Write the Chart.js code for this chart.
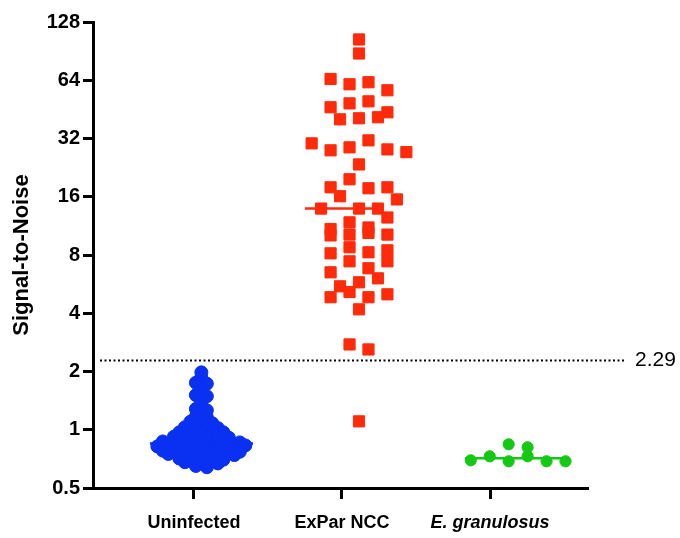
<!DOCTYPE html>
<html>
<head>
<meta charset="utf-8">
<script src="https://cdn.jsdelivr.net/npm/chart.js@4.4.1/dist/chart.umd.min.js"></script>
<style>
  html, body { margin: 0; padding: 0; background: #fff; }
  #wrap { width: 680px; height: 538px; }
</style>
</head>
<body>
<div id="wrap"><canvas id="c" width="680" height="538"></canvas></div>
<script>
// categories on the x axis
const categories = ['Uninfected', 'ExPar NCC', 'E. granulosus'];

// signal-to-noise values (order within a row = left to right)
const uninfected = [
  1.98, 1.86, 1.75, 1.73, 1.60, 1.51, 1.49, 1.38, 1.28, 1.26, 1.17, 1.16,
  1.10, 1.09, 1.08, 1.03, 1.02, 1.01, 1.02,
  0.97, 0.96, 0.95, 0.96, 0.97,
  0.92, 0.91, 0.90, 0.91, 0.92, 0.91,
  0.87, 0.86, 0.85, 0.86, 0.87, 0.86, 0.85, 0.86,
  0.82, 0.81, 0.82, 0.83, 0.81, 0.82, 0.81, 0.82, 0.83,
  0.78, 0.77, 0.78, 0.79, 0.77, 0.78, 0.78, 0.77,
  0.75, 0.74, 0.745, 0.74, 0.75, 0.745, 0.74,
  0.71, 0.70, 0.71, 0.715, 0.70,
  0.68, 0.67, 0.68, 0.67,
  0.65, 0.64
];
const exparNcc = [
  104, 88,
  65, 61, 62.5, 56.8,
  46.4, 48.6, 49.8, 43.7,
  40.2, 40.7, 41.2,
  30.2, 27.8, 28.8, 31.3, 28.1, 27.2,
  23.5,
  17.9, 19.7, 17.7, 17.9,
  13.9, 16.1, 13.9, 13.9, 15.5,
  10.9, 11.8, 11.1, 12.5,
  10.1, 10.2, 10.4, 10.2,
  8.16, 8.77, 8.26, 8.46,
  6.51, 7.42, 6.83, 7.42,
  5.51, 5.78, 6.06,
  4.84, 5.15, 4.84, 5.01,
  4.19,
  2.76, 2.60,
  1.105
];
const granulosus = [0.841, 0.812, 0.695, 0.729, 0.687, 0.729, 0.687, 0.687];

// y axis ticks (log2 spacing) and detection threshold
const yTicks = [0.5, 1, 2, 4, 8, 16, 32, 64, 128];
const threshold = 2.29;

const FONT = "'Liberation Sans', Arial, Helvetica, sans-serif";

// GraphPad-like scatter: rows of close values spread sideways
function swarm(values, center, step, rowLog) {
  const order = values.map((v, i) => i).sort((a, b) => values[b] - values[a]);
  const rows = [];
  let row = null;
  order.forEach(i => {
    const l = Math.log2(values[i]);
    if (!row || row.top - l > rowLog) { row = { top: l, items: [] }; rows.push(row); }
    row.items.push(i);
  });
  const pts = [];
  rows.forEach(r => {
    r.items.sort((a, b) => a - b);
    const n = r.items.length;
    r.items.forEach((i, k) => pts.push({ x: center + (k - (n - 1) / 2) * step, y: values[i] }));
  });
  return pts;
}

function median(arr) {
  const s = arr.slice().sort((a, b) => a - b);
  const m = Math.floor(s.length / 2);
  return s.length % 2 ? s[m] : (s[m - 1] + s[m]) / 2;
}

function medianLine(values, center, half, color) {
  const m = median(values);
  return {
    type: 'line', data: [{ x: center - half, y: m }, { x: center + half, y: m }],
    borderColor: color, borderWidth: 2.5, pointRadius: 0, showLine: true, order: 0
  };
}

const BLUE = '#0a30f2', RED = '#ff2a0a', GREEN = '#14c814';

const datasets = [
  { data: swarm(uninfected, 1.05, 0.0743, 0.06), pointStyle: 'circle', pointRadius: 6.5,
    backgroundColor: BLUE, borderColor: BLUE, borderWidth: 1, order: 1 },
  { data: swarm(exparNcc, 2.115, 0.128, 0.22), pointStyle: 'rect', pointRadius: 7.9,
    backgroundColor: RED, borderColor: RED, borderWidth: 1, order: 1 },
  { data: swarm(granulosus, 3.19, 0.128, 0.12), pointStyle: 'circle', pointRadius: 5.6,
    backgroundColor: GREEN, borderColor: GREEN, borderWidth: 1, order: 1 },
  medianLine(uninfected, 1.051, 0.348, BLUE),
  medianLine(exparNcc, 2.0135, 0.264, RED),
  medianLine(granulosus, 3.176, 0.345, GREEN)
];

const thresholdLine = {
  id: 'thresholdLine',
  afterDatasetsDraw(chart) {
    const { ctx, chartArea } = chart;
    const y = Math.round(chart.scales.y.getPixelForValue(threshold)) + 0.5;
    ctx.save();
    ctx.strokeStyle = '#000';
    ctx.lineWidth = 2;
    ctx.setLineDash([2, 2.5]);
    ctx.beginPath();
    ctx.moveTo(chartArea.left + 7, y);
    ctx.lineTo(chartArea.right + 36, y);
    ctx.stroke();
    ctx.setLineDash([]);
    ctx.fillStyle = '#000';
    ctx.font = '21px ' + FONT;
    ctx.textBaseline = 'middle';
    ctx.fillText(String(threshold), chartArea.right + 47, y);
    ctx.restore();
  }
};

new Chart(document.getElementById('c'), {
  type: 'scatter',
  data: { datasets },
  options: {
    responsive: false,
    animation: false,
    layout: { padding: { top: 22, right: 92, bottom: 0, left: 0 } },
    plugins: { legend: { display: false }, tooltip: { enabled: false } },
    scales: {
      x: {
        type: 'linear', min: 0.318, max: 3.662,
        afterBuildTicks: s => { s.ticks = [1, 2, 3].map(v => ({ value: v })); },
        afterFit: s => { s.height = 50; },
        border: { display: true, color: '#000', width: 3 },
        grid: { drawOnChartArea: false, drawTicks: true, tickLength: 11, tickWidth: 3, tickColor: '#000' },
        ticks: {
          padding: 13, color: '#000',
          callback: v => categories[v - 1],
          font: c => ({ family: FONT, size: 18, weight: 'bold', style: c.index === 2 ? 'italic' : 'normal' })
        }
      },
      y: {
        type: 'logarithmic', min: 0.5, max: 128,
        afterBuildTicks: s => { s.ticks = yTicks.map(v => ({ value: v })); },
        afterFit: s => { s.width = 93; },
        border: { display: true, color: '#000', width: 3 },
        grid: { drawOnChartArea: false, drawTicks: true, tickLength: 10, tickWidth: 3, tickColor: '#000' },
        ticks: {
          padding: 3, color: '#000',
          callback: v => String(v),
          font: { family: FONT, size: 20, weight: 'bold' }
        },
        title: {
          display: true, text: 'Signal-to-Noise', color: '#000',
          padding: { top: 9, bottom: 4 },
          font: { family: FONT, size: 22, weight: 'bold' }
        }
      }
    }
  },
  plugins: [thresholdLine]
});
</script>
</body>
</html>
